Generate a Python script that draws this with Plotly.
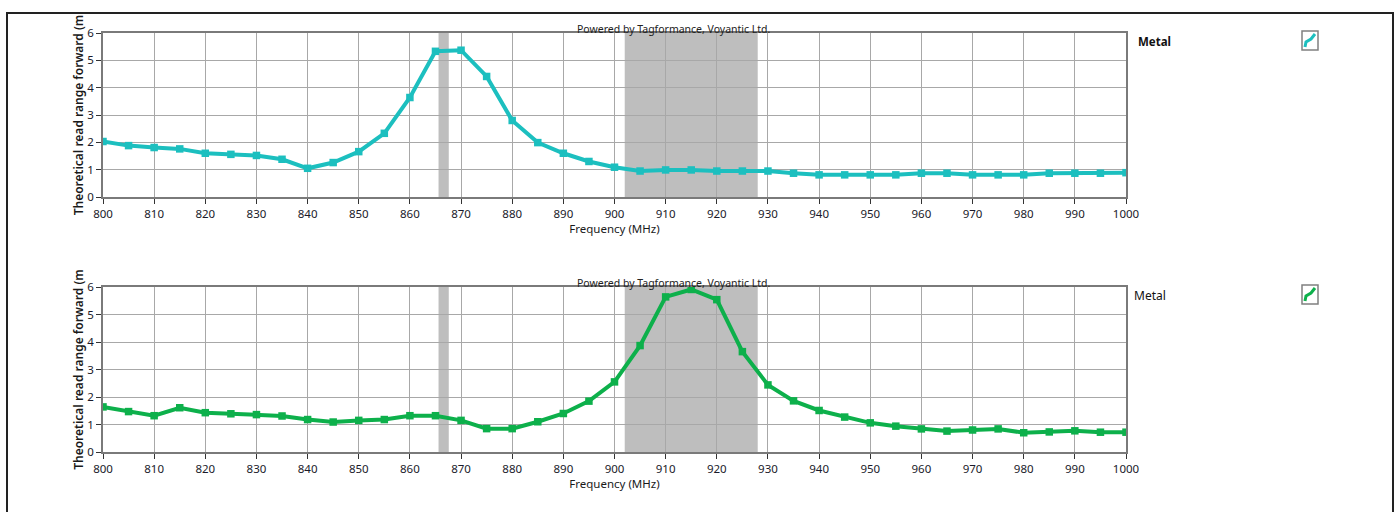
import plotly.graph_objects as go

freq = list(range(800, 1001, 5))
metal_top = [2.03, 1.88, 1.81, 1.76, 1.60, 1.56, 1.52, 1.38, 1.05, 1.26,
             1.66, 2.33, 3.64, 5.33, 5.37, 4.41, 2.80, 1.99, 1.60, 1.30,
             1.09, 0.95, 0.99, 0.99, 0.95, 0.95, 0.95, 0.87, 0.81, 0.81,
             0.81, 0.81, 0.87, 0.87, 0.81, 0.81, 0.81, 0.87, 0.87, 0.87, 0.89]
metal_bottom = [1.64, 1.47, 1.32, 1.61, 1.43, 1.39, 1.36, 1.31, 1.18, 1.09,
                1.15, 1.18, 1.32, 1.32, 1.15, 0.85, 0.85, 1.10, 1.40, 1.85,
                2.55, 3.87, 5.64, 5.91, 5.54, 3.65, 2.44, 1.86, 1.51, 1.27,
                1.06, 0.94, 0.84, 0.76, 0.80, 0.84, 0.70, 0.73, 0.77, 0.72, 0.72]
bands = [(865.6, 867.6), (902, 928)]
series_name = "Metal"
x_title = "Frequency (MHz)"
y_title = "Theoretical read range forward (m"
credit = "Powered by Tagformance, Voyantic Ltd."

W, H = 1399, 512
def px(x): return x / W
def py(y): return 1 - y / H

col_top = "#1CBFBF"
col_bot = "#0DB04B"
font = "Noto Sans"

fig = go.Figure()
fig.add_trace(go.Scatter(x=freq, y=metal_top, mode="lines+markers", name=series_name,
                         line=dict(color=col_top, width=4),
                         marker=dict(symbol="square", size=7.5, color=col_top),
                         xaxis="x", yaxis="y", showlegend=False))
fig.add_trace(go.Scatter(x=freq, y=metal_bottom, mode="lines+markers", name=series_name,
                         line=dict(color=col_bot, width=4),
                         marker=dict(symbol="square", size=7.5, color=col_bot),
                         xaxis="x2", yaxis="y2", showlegend=False))

xdom = [px(103), px(1126)]
ax_common = dict(showgrid=True, gridcolor="#A8A8A8", gridwidth=1, automargin=False,
                 showline=True, linecolor="#7A7A7A", linewidth=1.5, mirror=True,
                 ticks="outside", ticklen=5, tickcolor="#333333",
                 tickfont=dict(family=font, size=11.5, color="#1A1A2A"), zeroline=False)
ytitle_font = dict(family=font, size=12, color="#1A1A1A", weight=600)
xtitle_font = dict(family=font, size=11.5, color="#1A1A1A")

fig.update_layout(
    width=W, height=H, margin=dict(l=0, r=0, t=0, b=0, autoexpand=False),
    paper_bgcolor="white", plot_bgcolor="white",
    xaxis=dict(domain=xdom, range=[800, 1000], dtick=10, tick0=800, anchor="y",
               title=dict(text=x_title, font=xtitle_font, standoff=2), **ax_common),
    yaxis=dict(domain=[py(197), py(33)], range=[0, 6], dtick=1, anchor="x",
               title=dict(text=y_title, font=ytitle_font, standoff=1), **ax_common),
    xaxis2=dict(domain=xdom, range=[800, 1000], dtick=10, tick0=800, anchor="y2",
                title=dict(text=x_title, font=xtitle_font, standoff=2), **ax_common),
    yaxis2=dict(domain=[py(452), py(287)], range=[0, 6], dtick=1, anchor="x2",
                title=dict(text=y_title, font=ytitle_font, standoff=1), **ax_common),
)

shapes = []
for xr, yr in [("x", "y domain"), ("x2", "y2 domain")]:
    for a, b in bands:
        shapes.append(dict(type="rect", xref=xr, yref=yr, x0=a, x1=b, y0=0, y1=1,
                           fillcolor="#BEBEBE", line=dict(width=0), layer="below"))

# outer frame
shapes.append(dict(type="path", xref="paper", yref="paper",
                   path=f"M {px(7)} 0 L {px(7)} {py(13)} L {px(1393)} {py(13)} L {px(1393)} 0",
                   line=dict(color="#222222", width=2)))

# legend icons
for (iy, col) in [(31, col_top), (285, col_bot)]:
    shapes.append(dict(type="rect", xref="paper", yref="paper",
                       x0=px(1302), x1=px(1318), y0=py(iy + 19), y1=py(iy),
                       fillcolor="white", line=dict(color="#808080", width=1.5)))
    shapes.append(dict(type="path", xref="paper", yref="paper",
                       path=f"M {px(1305)} {py(iy+16)} L {px(1306)} {py(iy+11)} L {px(1311)} {py(iy+8)} L {px(1315)} {py(iy+3)}",
                       line=dict(color=col, width=3)))

annotations = []
for ty in [29, 283]:
    annotations.append(dict(text=credit, xref="paper", yref="paper", x=px(674), y=py(ty),
                            showarrow=False, xanchor="center", yanchor="middle",
                            font=dict(family=font, size=10.5, color="#222222")))
annotations.append(dict(text="<b>" + series_name + "</b>", xref="paper", yref="paper", x=px(1136), y=py(41),
                        showarrow=False, xanchor="left", yanchor="middle",
                        font=dict(family=font, size=11.5, color="#111111")))
annotations.append(dict(text=series_name, xref="paper", yref="paper", x=px(1132), y=py(295),
                        showarrow=False, xanchor="left", yanchor="middle",
                        font=dict(family=font, size=12, color="#111111")))

fig.update_layout(shapes=shapes, annotations=annotations)
fig.write_html("out.html", config={"displayModeBar": False},
               post_script="document.body.style.margin='0';document.body.style.overflow='hidden';")
